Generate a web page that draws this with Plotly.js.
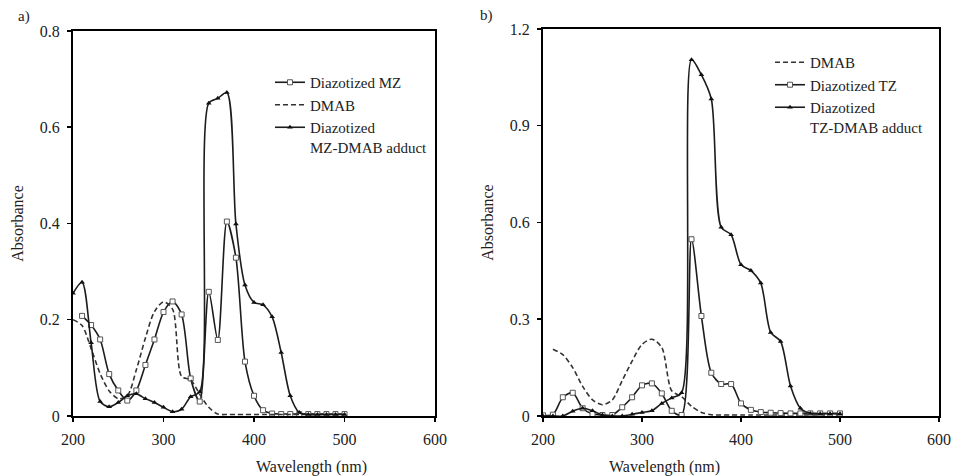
<!DOCTYPE html>
<html>
<head>
<meta charset="utf-8">
<script src="https://cdn.plot.ly/plotly-3.0.1.min.js"></script>
<style>html,body{margin:0;padding:0;background:#fff}#chart{width:953px;height:476px}</style>
</head>
<body>
<div id="chart"></div>
<script>
// Panel a) wavelengths (nm)
var wlA_MZ = [210,220,230,240,250,260,270,280,290,300,310,320,330,340,350,360,370,380,390,400,410,420,430,440,450,460,470,480,490,500];
var absA_MZ = [0.208,0.189,0.159,0.087,0.053,0.032,0.053,0.106,0.159,0.216,0.238,0.211,0.078,0.030,0.258,0.158,0.404,0.329,0.113,0.042,0.012,0.005,0.004,0.004,0.004,0.004,0.004,0.004,0.004,0.004];
var wlA_DMAB = [200,210,220,230,240,250,260,270,280,290,300,310,320,330,340,350,360,370,380,390,400,410,420,430,440,450,460,470,480,490,500];
var absA_DMAB = [0.200,0.188,0.140,0.088,0.052,0.036,0.042,0.096,0.162,0.217,0.237,0.222,0.082,0.075,0.045,0.018,0.004,0.003,0.003,0.003,0.003,0.003,0.003,0.003,0.003,0.003,0.003,0.003,0.003,0.003,0.003];
var wlA_ADD = [200,210,220,230,240,250,260,270,280,290,300,310,320,330,340,350,360,370,380,390,400,410,420,430,440,450,460,470,480,490,500];
var absA_ADD = [0.255,0.278,0.152,0.030,0.019,0.028,0.042,0.046,0.036,0.028,0.018,0.009,0.014,0.040,0.050,0.650,0.660,0.672,0.399,0.272,0.236,0.231,0.206,0.132,0.042,0.007,0.003,0.003,0.003,0.003,0.003];

// Panel b)
var wlB_DMAB = [210,220,230,240,250,260,270,280,290,300,310,320,330,340,350,360,370,380,390,400,410,420,430,440,450,460,470,480,490,500];
var absB_DMAB = [0.207,0.190,0.150,0.092,0.050,0.035,0.050,0.110,0.170,0.222,0.238,0.212,0.078,0.060,0.030,0.011,0.004,0.003,0.003,0.003,0.003,0.003,0.003,0.003,0.003,0.003,0.003,0.003,0.003,0.003];
var wlB_TZ = [200,210,220,230,240,250,260,270,280,290,300,310,320,330,340,350,360,370,380,390,400,410,420,430,440,450,460,470,480,490,500];
var absB_TZ = [0.002,0.004,0.058,0.072,0.024,0.006,0.003,0.003,0.027,0.058,0.095,0.101,0.070,0.016,0.003,0.548,0.310,0.134,0.099,0.099,0.039,0.019,0.012,0.010,0.009,0.008,0.008,0.008,0.008,0.008,0.008];
var wlB_ADD = [200,210,220,230,240,250,260,270,280,290,300,310,320,330,340,350,360,370,380,390,400,410,420,430,440,450,460,470,480,490,500];
var absB_ADD = [0.000,0.000,0.000,0.015,0.024,0.016,0.003,0.000,0.000,0.005,0.011,0.016,0.039,0.056,0.072,1.105,1.058,0.983,0.585,0.562,0.469,0.451,0.412,0.259,0.231,0.093,0.024,0.008,0.007,0.007,0.007];

var xTicks = [200,300,400,500,600];
var nameMZ = 'Diazotized MZ', nameDMAB = 'DMAB', nameAddA = 'Diazotized<br>MZ-DMAB adduct';
var nameTZ = 'Diazotized TZ', nameAddB = 'Diazotized<br>TZ-DMAB adduct';

var FONT = 'Liberation Serif, Times New Roman, serif';
var lineStyle = {color:'#1c1c1c', width:1.6, shape:'spline', smoothing:0.8};
var dashStyle = {color:'#333', width:1.6, shape:'spline', smoothing:0.8, dash:'5px,3px'};
var sqMarker = {symbol:'square', size:5, color:'#fff', line:{color:'#555', width:1}};
var triMarker = {symbol:'triangle-up', size:5, color:'#111', line:{width:0}};

var traces = [
  {x:wlA_MZ, y:absA_MZ, name:nameMZ, mode:'lines+markers', line:lineStyle, marker:sqMarker, xaxis:'x', yaxis:'y', legend:'legend', legendgroup:'a1'},
  {x:wlA_DMAB, y:absA_DMAB, name:nameDMAB, mode:'lines', line:dashStyle, xaxis:'x', yaxis:'y', legend:'legend', legendgroup:'a2'},
  {x:wlA_ADD, y:absA_ADD, name:nameAddA, mode:'lines+markers', line:lineStyle, marker:triMarker, xaxis:'x', yaxis:'y', legend:'legend', legendgroup:'a3'},
  {x:wlB_DMAB, y:absB_DMAB, name:nameDMAB, mode:'lines', line:dashStyle, xaxis:'x2', yaxis:'y2', legend:'legend2', legendgroup:'b1'},
  {x:wlB_TZ, y:absB_TZ, name:nameTZ, mode:'lines+markers', line:lineStyle, marker:sqMarker, xaxis:'x2', yaxis:'y2', legend:'legend2', legendgroup:'b2'},
  {x:wlB_ADD, y:absB_ADD, name:nameAddB, mode:'lines+markers', line:lineStyle, marker:triMarker, xaxis:'x2', yaxis:'y2', legend:'legend2', legendgroup:'b3'}
];

function xax(domain){
  return {domain:domain, range:[200,600], tickvals:xTicks, showline:true, linecolor:'#000', linewidth:2, mirror:true,
    ticks:'outside', ticklen:4, tickwidth:1.5, tickcolor:'#000', showgrid:false, zeroline:false,
    tickfont:{family:FONT, size:16, color:'#222'}, ticklabelstandoff:4};
}
function yax(domain, range, dtick, anchor){
  return {domain:domain, range:range, dtick:dtick, tick0:0, anchor:anchor, showline:true, linecolor:'#000', linewidth:2, mirror:true,
    ticks:'outside', ticklen:4, tickwidth:1.5, tickcolor:'#000', showgrid:false, zeroline:false,
    tickfont:{family:FONT, size:16, color:'#222'}, ticklabelstandoff:4,
    title:{text:'Absorbance', font:{family:FONT, size:16, color:'#222'}, standoff:12}};
}

var legendBase = {bgcolor:'rgba(0,0,0,0)', font:{family:FONT, size:15, color:'#222'}, xanchor:'left', yanchor:'top',
  valign:'top', traceorder:'grouped', tracegroupgap:0};

var layout = {
  width:953, height:476, margin:{l:0,r:0,t:0,b:0}, paper_bgcolor:'#fff', plot_bgcolor:'#fff',
  font:{family:FONT, color:'#222'},
  xaxis: xax([0.0766,0.4565]),
  yaxis: yax([0.1261,0.9349],[0,0.8],0.2,'x'),
  xaxis2: Object.assign(xax([0.5698,0.9853]), {anchor:'y2'}),
  yaxis2: yax([0.1261,0.9391],[0,1.2],0.3,'x2'),
  legend: Object.assign({}, legendBase, {x:0.2833, y:0.8613}),
  legend2: Object.assign({}, legendBase, {x:0.808, y:0.9034}),
  showlegend:true,
  annotations:[
    {text:'Wavelength (nm)', xref:'paper', yref:'paper', x:254/953, y:1-467/476, yanchor:'middle', showarrow:false, font:{family:FONT,size:16,color:'#222'}},
    {text:'Wavelength (nm)', xref:'paper', yref:'paper', x:722/953, y:1-467/476, yanchor:'middle', showarrow:false, font:{family:FONT,size:16,color:'#222'}},
    {text:'a)', xref:'paper', yref:'paper', x:16/953, y:1-17/476, yanchor:'middle', showarrow:false, font:{family:FONT,size:15,color:'#222'}},
    {text:'b)', xref:'paper', yref:'paper', x:486/953, y:1-16/476, yanchor:'middle', showarrow:false, font:{family:FONT,size:15,color:'#222'}}
  ]
};
layout.xaxis.anchor = 'y';
Plotly.newPlot('chart', traces, layout, {displayModeBar:false, staticPlot:true});
</script>
</body>
</html>
